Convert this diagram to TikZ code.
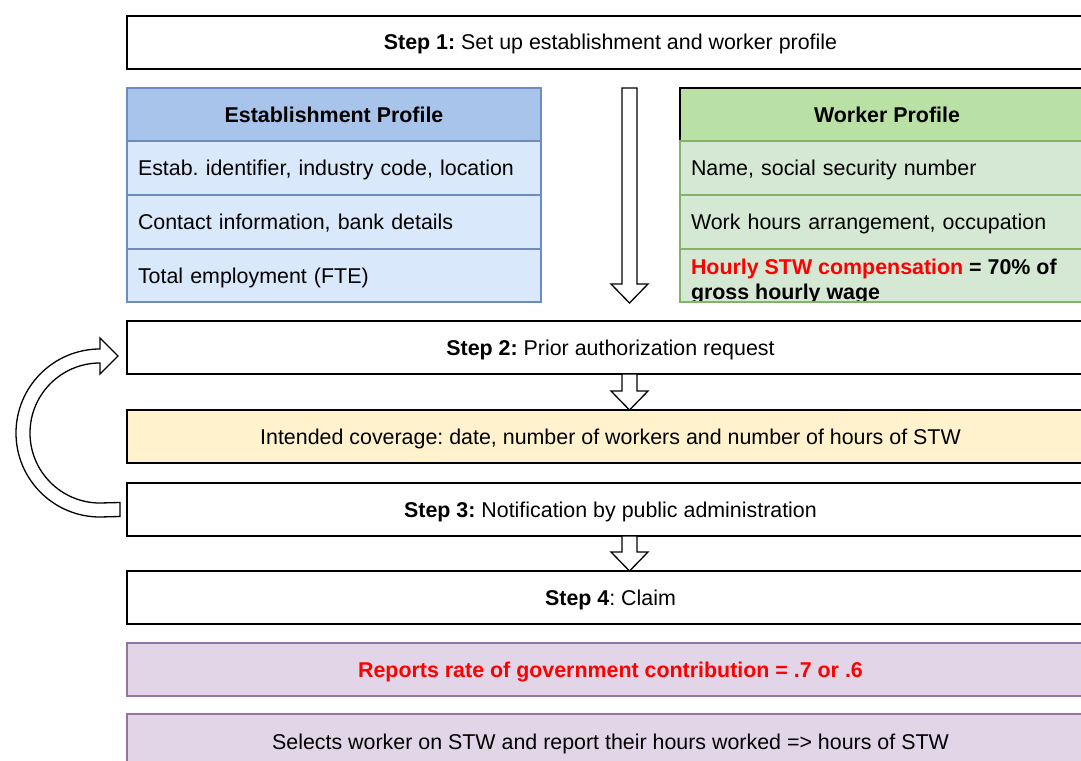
\documentclass[tikz,border=0pt]{standalone}
\usepackage{fontspec}
\setmainfont{Liberation Sans}
\usetikzlibrary{calc}
\frenchspacing
\definecolor{ehead}{HTML}{A9C4EB}
\definecolor{erow}{HTML}{DAE8FC}
\definecolor{estroke}{HTML}{6C8EBF}
\definecolor{whead}{HTML}{B9E0A5}
\definecolor{wrow}{HTML}{D5E8D4}
\definecolor{wstroke}{HTML}{82B366}
\definecolor{yfill}{HTML}{FFF2CC}
\definecolor{pfill}{HTML}{E1D5E7}
\definecolor{pstroke}{HTML}{9673A6}
\definecolor{dred}{HTML}{FF0000}
\newcommand\blkarrow[2]{%
  \path let \p1=(#1), \p2=(#2) in
    [blockarrow] (\x1-7.5pt,\y1) -- (\x1+7.5pt,\y1) -- (\x1+7.5pt,\y2+19pt)
    -- (\x1+18.5pt,\y2+19pt) -- (\x2,\y2) -- (\x1-18.5pt,\y2+19pt)
    -- (\x1-7.5pt,\y2+19pt) -- cycle;}
\begin{document}
\frenchspacing
\begin{tikzpicture}[x=1pt,y=-1pt,
  every node/.style={font=\fontsize{21.4}{25}\selectfont, inner sep=0pt, outer sep=0pt},
  oneline/.style={text height=17.5pt, text depth=2.5pt},
  stepbox/.style={oneline, draw=black, line width=1.3pt, fill=white, minimum width=967pt,
    minimum height=53pt, anchor=north west},
  ebox/.style={oneline, draw=estroke, line width=1.3pt, fill=erow, text width=392pt, inner xsep=11pt,
    align=left, minimum height=54pt, anchor=north west},
  wbox/.style={oneline, draw=wstroke, line width=1.3pt, fill=wrow, text width=392pt, inner xsep=11pt,
    align=left, minimum height=54pt, anchor=north west},
  headbox/.style={oneline, line width=1.3pt, minimum width=414pt, minimum height=53pt, anchor=north west},
  blockarrow/.style={draw=black, line width=1.3pt, fill=white, line join=miter}]
\clip (0,0) rectangle (1081,760);
\fill[white] (0,0) rectangle (1081,760);

% Step 1
\node[stepbox] (step1) at (127,16) {\textbf{Step 1:} Set up establishment and worker profile};

% Establishment profile
\node[headbox, draw=estroke, fill=ehead] (ehead) at (127,88) {\textbf{Establishment Profile}};
\node[ebox] (erow1) at (127,141) {Estab. identifier, industry code, location};
\node[ebox] (erow2) at (127,195) {Contact information, bank details};
\node[ebox, minimum height=53pt] (erow3) at (127,249) {Total employment (FTE)};

% Worker profile
\node[headbox, draw=black, fill=whead] (whead) at (680,88) {\textbf{Worker Profile}};
\node[wbox] (wrow1) at (680,141) {Name, social security number};
\node[wbox] (wrow2) at (680,195) {Work hours arrangement, occupation};
\node[wbox, minimum height=53pt] (wrow3) at (680,249) {};
\begin{scope}
  \clip (680,249) rectangle (1094,300);
  \node[anchor=north west, align=left] (wtext) at (691,259)
    {\textbf{\textcolor{dred}{Hourly STW compensation}} \textbf{= 70\% of}\\\textbf{gross hourly wage}};
\end{scope}

% big arrow
\coordinate (bigs) at (629.5,88);
\coordinate (bige) at (629.5,303);
\blkarrow{bigs}{bige}

% Step 2
\node[stepbox] (step2) at (127,321) {\textbf{Step 2:} Prior authorization request};

% coverage
\node[stepbox, fill=yfill] (cover) at (127,410) {Intended coverage: date, number of workers and number of hours of STW};

% Step 3
\node[stepbox] (step3) at (127,483) {\textbf{Step 3:} Notification by public administration};

% Step 4
\node[stepbox] (step4) at (127,571) {\textbf{Step 4}: Claim};

% purple boxes
\node[stepbox, draw=pstroke, fill=pfill, text=dred, font=\fontsize{21.4}{25}\selectfont\bfseries] (rate) at (127,643)
  {Reports rate of government contribution = .7 or .6};
\node[stepbox, draw=pstroke, fill=pfill, minimum height=56pt] (select) at (127,714)
  {Selects worker on STW and report their hours worked => hours of STW};

% small arrows
\coordinate (a2s) at ($(step2.south)+(19,0)$);
\coordinate (a2e) at ($(cover.north)+(19,0)$);
\blkarrow{a2s}{a2e}
\coordinate (a3s) at ($(step3.south)+(19,0)$);
\coordinate (a3e) at ($(step4.north)+(19,0)$);
\blkarrow{a3s}{a3e}

% curved arrow from step 3 back to step 2
\coordinate (ctail) at ($(step3.west)+(-7,0)$);
\draw[blockarrow] ($(ctail)+(0,-7)$) -- ($(ctail)+(0,7)$) -- (100,517)
  arc[start angle=270, end angle=90, radius=84pt]
  -- (100,338) -- (118,356) -- (100,374) -- (100,363)
  arc[start angle=90, end angle=270, radius=70pt] -- cycle;
\end{tikzpicture}
\end{document}
